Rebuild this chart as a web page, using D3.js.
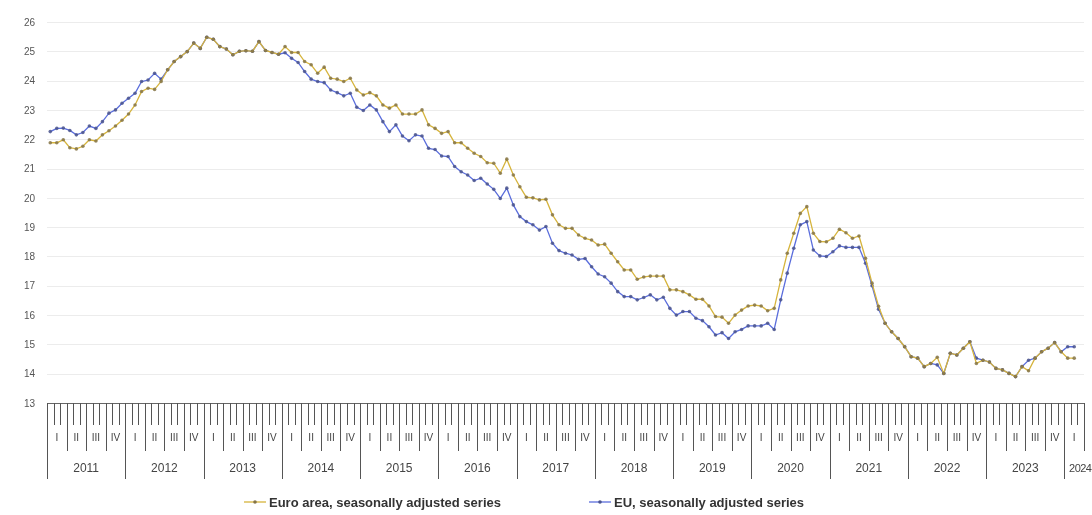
<!DOCTYPE html>
<html>
<head>
<meta charset="utf-8">
<script src="https://cdn.jsdelivr.net/npm/d3@7"></script>
<style>
  body { margin: 0; background: #fff; }
  svg { will-change: transform; }
  text { font-family: "Liberation Sans", Arial, sans-serif; }
</style>
</head>
<body>
<div id="chart"></div>
<script>
// Monthly values, Jan 2011 .. Feb 2024
var years = ["2011", "2012", "2013", "2014", "2015", "2016", "2017", "2018", "2019", "2020", "2021", "2022", "2023", "2024"];
var quarters = ["I", "II", "III", "IV"];
var yTicks = [13, 14, 15, 16, 17, 18, 19, 20, 21, 22, 23, 24, 25, 26];

var euroArea = [
  21.88, 21.88, 21.98, 21.71, 21.67, 21.76, 21.98, 21.94, 22.15, 22.29, 22.45, 22.65,
  22.86, 23.17, 23.63, 23.74, 23.70, 23.97, 24.37, 24.65, 24.82, 24.99, 25.28, 25.10,
  25.48, 25.41, 25.16, 25.08, 24.88, 25.00, 25.02, 25.00, 25.33, 25.03, 24.96, 24.90,
  25.16, 24.96, 24.96, 24.65, 24.54, 24.25, 24.46, 24.08, 24.05, 23.97, 24.08, 23.68,
  23.51, 23.59, 23.48, 23.17, 23.06, 23.17, 22.86, 22.86, 22.86, 23.00, 22.49, 22.37,
  22.20, 22.26, 21.88, 21.88, 21.69, 21.52, 21.41, 21.20, 21.18, 20.84, 21.32, 20.78,
  20.38, 20.02, 20.00, 19.93, 19.95, 19.42, 19.08, 18.96, 18.96, 18.73, 18.62, 18.56,
  18.39, 18.42, 18.11, 17.82, 17.54, 17.54, 17.22, 17.30, 17.33, 17.33, 17.33, 16.86,
  16.86, 16.80, 16.69, 16.54, 16.54, 16.31, 15.95, 15.93, 15.72, 16.00, 16.17, 16.31,
  16.34, 16.31, 16.15, 16.23, 17.20, 18.11, 18.79, 19.47, 19.70, 18.79, 18.51, 18.50,
  18.62, 18.93, 18.81, 18.62, 18.70, 17.94, 17.09, 16.30, 15.72, 15.43, 15.20, 14.92,
  14.58, 14.53, 14.24, 14.35, 14.56, 14.01, 14.70, 14.64, 14.87, 15.09, 14.35, 14.46,
  14.40, 14.18, 14.13, 14.01, 13.90, 14.24, 14.10, 14.53, 14.75, 14.87, 15.06, 14.75,
  14.53, 14.53
];

var eu = [
  22.26, 22.37, 22.38, 22.30, 22.15, 22.23, 22.45, 22.37, 22.60, 22.89, 23.00, 23.23,
  23.40, 23.57, 23.97, 24.02, 24.25, 24.05, 24.37, 24.65, 24.82, 24.99, 25.28, 25.10,
  25.48, 25.41, 25.16, 25.08, 24.88, 25.00, 25.02, 25.00, 25.33, 25.03, 24.96, 24.90,
  24.95, 24.76, 24.62, 24.31, 24.05, 23.97, 23.93, 23.68, 23.59, 23.48, 23.57, 23.09,
  22.98, 23.17, 23.00, 22.60, 22.26, 22.49, 22.11, 21.95, 22.15, 22.11, 21.69, 21.65,
  21.43, 21.41, 21.07, 20.89, 20.78, 20.59, 20.67, 20.47, 20.29, 19.98, 20.33, 19.76,
  19.36, 19.19, 19.08, 18.90, 19.02, 18.45, 18.20, 18.11, 18.05, 17.90, 17.93, 17.65,
  17.40, 17.31, 17.09, 16.80, 16.63, 16.63, 16.52, 16.60, 16.69, 16.52, 16.61, 16.23,
  16.00, 16.12, 16.12, 15.89, 15.81, 15.60, 15.32, 15.40, 15.20, 15.43, 15.51, 15.63,
  15.63, 15.63, 15.72, 15.51, 16.52, 17.43, 18.28, 19.08, 19.19, 18.22, 18.02, 18.00,
  18.16, 18.36, 18.31, 18.31, 18.31, 17.77, 17.00, 16.20, 15.72, 15.43, 15.20, 14.92,
  14.58, 14.53, 14.24, 14.35, 14.30, 14.01, 14.70, 14.64, 14.87, 15.09, 14.53, 14.46,
  14.40, 14.18, 14.13, 14.01, 13.90, 14.24, 14.46, 14.53, 14.75, 14.87, 15.06, 14.75,
  14.92, 14.92
];

var seriesNames = ["Euro area, seasonally adjusted series", "EU, seasonally adjusted series"];

var width = 1092, height = 515;
var nMonths = 159; // axis runs to end of Q1 2024

var svg = d3.select("#chart").append("svg")
  .attr("width", width)
  .attr("height", height);

svg.append("rect").attr("width", width).attr("height", height).attr("fill", "#fff");

// scales
var x = d3.scaleLinear().domain([0, nMonths]).range([47, 1084]);
var y = d3.scaleLinear().domain([13, 26]).range([403, 22]);

// gridlines
svg.append("g")
  .selectAll("line")
  .data(yTicks.slice(1))
  .join("line")
  .attr("x1", 47).attr("x2", 1084)
  .attr("y1", d => Math.round(y(d)) + 0.5).attr("y2", d => Math.round(y(d)) + 0.5)
  .attr("stroke", "#ececec")
  .attr("stroke-width", 1);

// y axis labels
var yAxis = d3.axisLeft(y).tickValues(yTicks).tickSize(0).tickPadding(0);
svg.append("g")
  .attr("transform", "translate(35,0)")
  .call(yAxis)
  .call(g => g.select(".domain").remove())
  .selectAll("text")
  .attr("font-size", 10)
  .attr("fill", "#555");

// x axis: month ticks, quarter and year separators
var xg = svg.append("g").attr("stroke", "#555");
xg.append("line")
  .attr("x1", x(0)).attr("x2", x(nMonths))
  .attr("y1", 403.5).attr("y2", 403.5)
  .attr("stroke", "#666");

var months = d3.range(0, nMonths + 1);
xg.selectAll(".mtick")
  .data(months)
  .join("line")
  .attr("class", "mtick")
  .attr("x1", d => Math.round(x(d)) + 0.5)
  .attr("x2", d => Math.round(x(d)) + 0.5)
  .attr("y1", 403)
  .attr("y2", d => d % 12 == 0 ? 479 : (d % 3 == 0 ? 451 : 425))
  .attr("stroke-width", 1);

var qIdx = d3.range(0, Math.floor(nMonths / 3));
svg.append("g")
  .selectAll("text")
  .data(qIdx)
  .join("text")
  .attr("x", d => x(d * 3 + 1.5))
  .attr("y", 441)
  .attr("text-anchor", "middle")
  .attr("font-size", 10)
  .attr("fill", "#444")
  .text(d => quarters[d % 4]);

// year labels; the last one only has a partial span at the right edge
var last = years.length - 1;
svg.append("g")
  .selectAll("text")
  .data(years)
  .join("text")
  .attr("x", (d, i) => i < last ? x(i * 12 + 6) : 1091.5)
  .attr("y", 472)
  .attr("text-anchor", (d, i) => i < last ? "middle" : "end")
  .attr("font-size", (d, i) => i < last ? 12 : 11)
  .attr("letter-spacing", (d, i) => i < last ? 0 : -0.5)
  .attr("fill", "#444")
  .text(d => d);

// lines
var line = d3.line()
  .x((d, i) => x(i + 0.5))
  .y(d => y(d));

var series = [
  {name: seriesNames[0], values: euroArea, color: "#d6b43c", dot: "#857447"},
  {name: seriesNames[1], values: eu, color: "#5a6ddc", dot: "#4a538c"}
];

series.slice().reverse().forEach(s => {
  svg.append("path")
    .attr("d", line(s.values))
    .attr("fill", "none")
    .attr("stroke", s.color)
    .attr("stroke-width", 1.3);
  svg.append("g")
    .selectAll("circle")
    .data(s.values)
    .join("circle")
    .attr("cx", (d, i) => x(i + 0.5))
    .attr("cy", d => y(d))
    .attr("r", 1.8)
    .attr("fill", s.dot)
    .attr("opacity", 0.85);
});

// legend
var legendX = [244, 589];
series.forEach((s, i) => {
  var lg = svg.append("g").attr("transform", "translate(" + legendX[i] + ",502)");
  lg.append("line").attr("x1", 0).attr("x2", 22).attr("y1", 0).attr("y2", 0)
    .attr("stroke", s.color).attr("stroke-width", 1.3);
  lg.append("circle").attr("cx", 11).attr("cy", 0).attr("r", 1.8).attr("fill", s.dot);
  lg.append("text")
    .attr("x", 25).attr("y", 4.5)
    .attr("font-size", 13)
    .attr("font-weight", "bold")
    .attr("fill", "#333")
    .text(s.name);
});
</script>
</body>
</html>
